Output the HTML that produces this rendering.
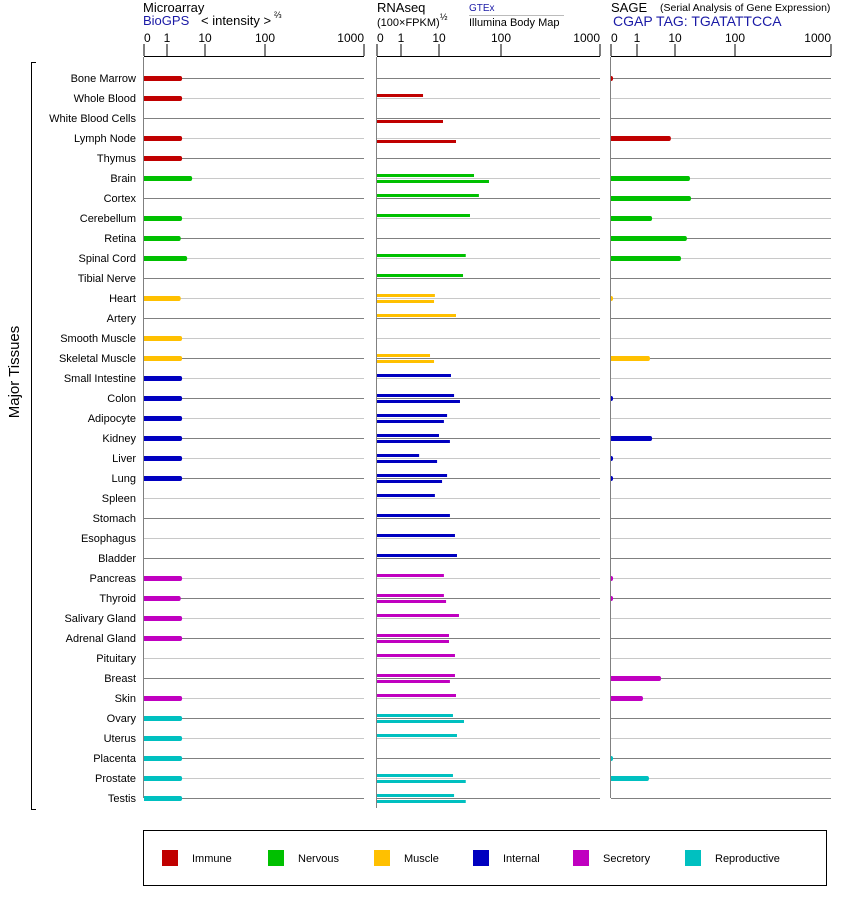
<!DOCTYPE html>
<html><head><meta charset="utf-8"><style>
body{margin:0;background:#fff;}
svg{display:block;font-family:"Liberation Sans",sans-serif;}
</style></head><body>
<svg id="chart" width="842" height="900" viewBox="0 0 842 900"></svg>
<script>
const tissues=["Bone Marrow","Whole Blood","White Blood Cells","Lymph Node","Thymus","Brain","Cortex","Cerebellum","Retina","Spinal Cord","Tibial Nerve","Heart","Artery","Smooth Muscle","Skeletal Muscle","Small Intestine","Colon","Adipocyte","Kidney","Liver","Lung","Spleen","Stomach","Esophagus","Bladder","Pancreas","Thyroid","Salivary Gland","Adrenal Gland","Pituitary","Breast","Skin","Ovary","Uterus","Placenta","Prostate","Testis"];
const groups=[0,0,0,0,0,1,1,1,1,1,1,2,2,2,2,3,3,3,3,3,3,3,3,3,3,4,4,4,4,4,4,4,5,5,5,5,5];
const groupNames=["Immune","Nervous","Muscle","Internal","Secretory","Reproductive"];
const colors=["#c00000","#00c000","#ffc000","#0000c0","#c000c0","#00c0c0"];
const microarray=[2.5,2.5,null,2.5,2.5,4.6,null,2.5,2.3,3.4,null,2.3,null,2.5,2.5,2.5,2.5,2.5,2.5,2.5,2.5,null,null,null,null,2.5,2.3,2.5,2.5,null,null,2.5,2.5,2.5,2.5,2.5,2.5];
const gtex=[null,3.8,null,null,null,36.7,44,31.6,null,27,24.4,7.8,18.8,null,5.8,15.6,17.5,13.5,10,3,13.5,7.8,15,18.1,19.5,12,12,21,14.5,18.1,18.1,18.8,16.8,19.5,null,16.8,17.5];
const illumina=[null,null,11.6,18.8,null,64,null,null,null,null,null,7.4,null,null,7.4,null,21.8,12,15,8.9,11.2,null,null,null,null,null,13,null,14.5,null,15,null,25.3,null,null,27,27];
const sage=[0.08,null,null,7.8,null,17.8,18.5,2.5,15.8,12.6,null,0.08,null,null,2.2,null,0.08,null,2.5,0.08,0.08,null,null,null,null,0.08,0.08,null,null,null,4.3,1.44,null,null,0.08,2.07,null];
const tickLabels=["0","1","10","100","1000"];
const tickValues=[0,1,10,100,1000];

const NS="http://www.w3.org/2000/svg";
const svg=document.getElementById('chart');
function mk(tag,attrs,parent){const e=document.createElementNS(NS,tag);for(const k in attrs)e.setAttribute(k,attrs[k]);(parent||svg).appendChild(e);return e;}
function txt(s,attrs,parent){const e=mk('text',attrs,parent);e.textContent=s;return e;}
function makeScale(px){return function(v){if(v<=1)return px[0]+(px[1]-px[0])*v;const l=Math.log10(v);const i=Math.min(3,1+Math.floor(l));const lo=i-1;return px[i]+(px[i+1]-px[i])*(l-lo);};}
const panels=[
 {name:"microarray",px:[144,167,205,265,364],vEnd:798},
 {name:"rnaseq",px:[377,401,439,501,600],vEnd:808},
 {name:"sage",px:[611,637,675,735,831],vEnd:798}];
panels.forEach(p=>p.scale=makeScale(p.px));
const rowY=i=>78+20*i;

// headers
let g=mk('g',{});


txt("Microarray",{x:143,y:12,'font-size':13},g);
txt("BioGPS",{x:143,y:25,'font-size':13,fill:'#1a1aa6'},g);
txt("< intensity >",{x:201,y:25,'font-size':13},g);
txt("⅔",{x:274,y:18,'font-size':9},g);
txt("RNAseq",{x:377,y:12,'font-size':13},g);
txt("(100×FPKM)",{x:377,y:26,'font-size':11},g);
txt("½",{x:440,y:20,'font-size':9},g);
txt("GTEx",{x:469,y:11,'font-size':10,fill:'#1a1aa6'},g);
mk('line',{x1:469,x2:564,y1:15.5,y2:15.5,stroke:'#bbb'},g);
txt("Illumina Body Map",{x:469,y:26,'font-size':11},g);
txt("SAGE",{x:611,y:12,'font-size':13},g);
txt("(Serial Analysis of Gene Expression)",{x:660,y:11,'font-size':10.5},g);
txt("CGAP TAG: TGATATTCCA",{x:613,y:26,'font-size':14,fill:'#1a1aa6'},g);

// axes
panels.forEach(p=>{
 const a=mk('g',{});
 
 
 mk('line',{x1:p.scale(0),x2:p.scale(1000),y1:56.5,y2:56.5,stroke:'#000'},a);
 tickValues.forEach((v,i)=>{
  const x=p.scale(v);
  mk('line',{x1:x,x2:x,y1:44,y2:56,stroke:'#000'},a);
  txt(tickLabels[i],{x:x,y:42,'font-size':12,'text-anchor':i==0?'start':(i==4?'end':'middle')},a);
 });
 tissues.forEach((t,i)=>{
  mk('line',{x1:p.scale(0),x2:p.scale(1000),y1:rowY(i)+0.5,y2:rowY(i)+0.5,stroke:i%2?'#c8c8c8':'#808080'},a);
 });
 mk('line',{x1:p.scale(0)-0.5,x2:p.scale(0)-0.5,y1:57,y2:p.vEnd,stroke:'#808080'},a);
});

// labels
tissues.forEach((t,i)=>{
 const e=txt(t,{x:136,y:rowY(i)+4,'font-size':11,'text-anchor':'end'});
 
 
});
mk('path',{d:'M36 62.5 H31.5 V809.5 H36',fill:'none',stroke:'#000'});
const mt=txt("Major Tissues",{x:19,y:372,'font-size':15,'text-anchor':'middle',transform:'rotate(-90 19 372)'});



// bars
function thickBar(p,v,i,arrName){
 if(v==null)return;
 const x0=p.scale(0),x1=p.scale(v),y=rowY(i);
 const r=mk('path',{d:`M${x0} ${y-2} H${Math.max(x0,x1-2)} Q${x1} ${y-2} ${x1} ${y+0.5} Q${x1} ${y+3} ${Math.max(x0,x1-2)} ${y+3} H${x0} Z`,fill:colors[groups[i]]});
 
 
}
function thinBar(p,v,i,off,arrName){
 if(v==null)return;
 const x0=p.scale(0),x1=p.scale(v),y=rowY(i);
 const r=mk('rect',{x:x0,y:y+off,width:x1-x0,height:3,fill:colors[groups[i]]});
 
 
}
tissues.forEach((t,i)=>{
 thickBar(panels[0],microarray[i],i,'microarray');
 thinBar(panels[1],gtex[i],i,-4,'gtex');
 thinBar(panels[1],illumina[i],i,2,'illumina');
 thickBar(panels[2],sage[i],i,'sage');
});

// legend
const lg=mk('g',{});


mk('rect',{x:143.5,y:830.5,width:683,height:55,fill:'none',stroke:'#000'},lg);
const sw=[162,268,374,473,573,685];
groupNames.forEach((n,i)=>{
 const e=mk('g',{},lg);
 
 
 mk('rect',{x:sw[i],y:850,width:16,height:16,fill:colors[i]},e);
 txt(n,{x:sw[i]+30,y:862,'font-size':11},e);
});
</script>
</body></html>
